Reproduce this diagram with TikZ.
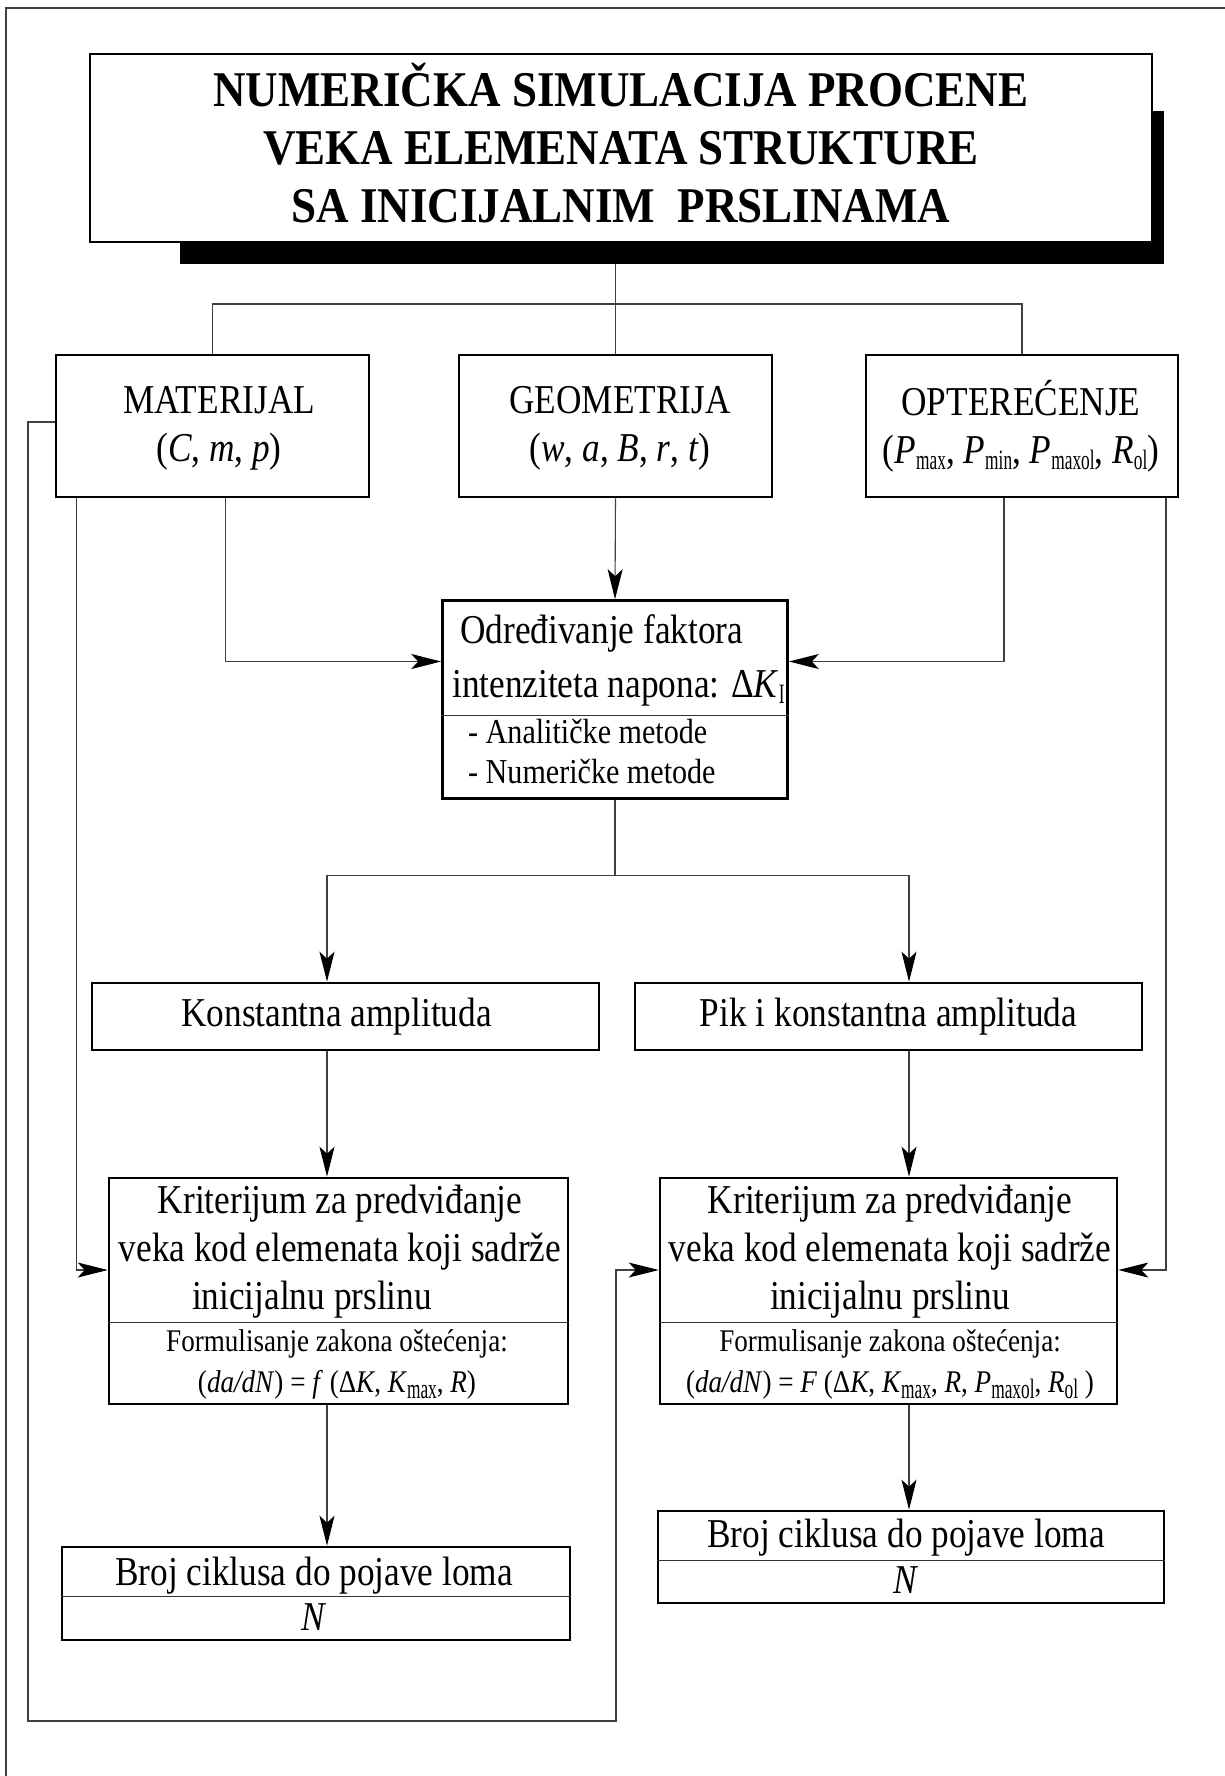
\documentclass[tikz,border=0pt]{standalone}
\usepackage{fontspec}
\usepackage{graphicx}
\setmainfont{Liberation Serif}[FakeStretch=0.86]
\newfontfamily\headfont{Liberation Serif}[FakeStretch=0.9]
\usetikzlibrary{arrows.meta}
\newcommand\lo[1]{\raisebox{-6pt}{\fontsize{28}{28}\selectfont\scalebox{0.72}[1]{#1}}}

\begin{document}
\begin{tikzpicture}[
    x=1pt, y=-1pt,
    box/.style={draw, line width=2.6pt, fill=white, inner sep=0pt},
    txt/.style={inner sep=0pt, align=center, font=\fontsize{41}{48}\selectfont},
    note/.style={inner sep=0pt, align=center, font=\fontsize{31.5}{41}\selectfont},
    line/.style={draw=black!75, line width=1.1pt},
    split/.style={draw=black!80, line width=1pt},
    arrow/.style={line, -{Stealth[length=30pt, width=15pt, inset=7pt, black]}}
]
    \useasboundingbox (0,0) rectangle (1225,1776);
    \draw[line] (6,1776) |- (1225,8);

    % title with its shadow
    \node[fill=black, inner sep=0pt, minimum width=984pt, minimum height=153pt] (shade) at (672,187.5) {};
    \node[box, minimum width=1062pt, minimum height=188pt] (title) at (621,148) {};
    \node[anchor=base, inner sep=0pt, align=center, font=\headfont\bfseries\fontsize{50}{58}\selectfont] (titletxt) at (621,223)
        {NUMERIČKA SIMULACIJA PROCENE\\VEKA ELEMENATA STRUKTURE\\SA INICIJALNIM\ \ PRSLINAMA};

    % input data
    \node[box, minimum width=313pt, minimum height=142pt] (mat) at (212.5,426) {};
    \node[txt, anchor=base] (mattxt) at (219,461) {MATERIJAL\\(\textit{C}, \textit{m}, \textit{p})};
    \node[box, minimum width=313pt, minimum height=142pt] (geo) at (615.5,426) {};
    \node[txt, anchor=base] (geotxt) at (620,461) {GEOMETRIJA\\(\textit{w}, \textit{a}, \textit{B}, \textit{r}, \textit{t})};
    \node[box, minimum width=312pt, minimum height=142pt] (opt) at (1022,426) {};
    \node[txt, anchor=base] (opttxt) at (1021,463) {OPTEREĆENJE\\(\textit{P}\lo{max}, \textit{P}\lo{min}, \textit{P}\lo{maxol}, \textit{R}\lo{ol})};

    % stress intensity factor
    \node[box, minimum width=345pt, minimum height=198pt] (dk) at (615,699.5) {};
    \node[txt, anchor=base west, align=left, font=\fontsize{41}{54}\selectfont] (dktxt) at (452,697)
        {\hspace*{8pt}Određivanje faktora\\intenziteta napona: Δ\textit{K}\lo{I}};
    \node[note, anchor=base west, align=left, font=\fontsize{35}{40}\selectfont] (dkmeth) at (468,783)
        {- Analitičke metode\\- Numeričke metode};
    \draw[split] (dk.west |- 0,715) -- (dk.east |- 0,715);

    % loading type
    \node[box, txt, minimum width=507pt, minimum height=67pt] (kon) at (345.5,1016.5) {Konstantna amplituda\hspace*{18pt}};
    \node[box, txt, minimum width=507pt, minimum height=67pt] (pik) at (888.5,1016.5) {Pik i konstantna amplituda};

    % criteria
    \node[box, minimum width=459pt, minimum height=226pt] (kritL) at (338.5,1291) {};
    \node[txt, anchor=base] (kritLtxt) at (340,1309)
        {Kriterijum za predviđanje\\veka kod elemenata koji sadrže\\inicijalnu prslinu\hspace*{56pt}};
    \node[note, anchor=base] (kritLlaw) at (337,1392)
        {Formulisanje zakona oštećenja:\\(\textit{da/dN}) = \textit{f} (Δ\textit{K}, \textit{K}\lo{max}, \textit{R})};
    \draw[split] (kritL.west |- 0,1322) -- (kritL.east |- 0,1322);

    \node[box, minimum width=457pt, minimum height=226pt] (kritR) at (888.5,1291) {};
    \node[txt, anchor=base] (kritRtxt) at (890,1309)
        {Kriterijum za predviđanje\\veka kod elemenata koji sadrže\\inicijalnu prslinu};
    \node[note, anchor=base] (kritRlaw) at (890,1392)
        {Formulisanje zakona oštećenja:\\(\textit{da/dN}) = \textit{F} (Δ\textit{K}, \textit{K}\lo{max}, \textit{R}, \textit{P}\lo{maxol}, \textit{R}\lo{ol} )};
    \draw[split] (kritR.west |- 0,1322) -- (kritR.east |- 0,1322);

    % number of cycles
    \node[box, minimum width=508pt, minimum height=93pt] (brojL) at (316,1593.5) {};
    \node[txt, anchor=base, font=\fontsize{41}{45}\selectfont] (brojLtxt) at (314,1630) {Broj ciklusa do pojave loma\\\textit{N}};
    \draw[split] (brojL.west |- 0,1596) -- (brojL.east |- 0,1596);
    \node[box, minimum width=506pt, minimum height=92pt] (brojR) at (911,1557) {};
    \node[txt, anchor=base, font=\fontsize{41}{46}\selectfont] (brojRtxt) at (906,1593) {Broj ciklusa do pojave loma\\\textit{N}};
    \draw[split] (brojR.west |- 0,1560) -- (brojR.east |- 0,1560);

    % connectors
    \coordinate (bus) at (617,304);
    \coordinate (colL) at (327,0);
    \coordinate (colR) at (909,0);
    \draw[line] (geo.north) -- (geo.north |- shade.south);
    \draw[line] (mat.north) |- (bus) -| (opt.north);
    \draw[arrow] (geo.south) -- (dk.north);
    \draw[arrow] ([xshift=13pt]mat.south) |- ([yshift=38pt]dk.west);
    \draw[arrow] ([xshift=-18pt]opt.south) |- ([yshift=38pt]dk.east);
    \draw[arrow] ([xshift=-136pt]mat.south) |- ([yshift=21pt]kritL.west);
    \draw[arrow] ([xshift=144pt]opt.south) |- ([yshift=21pt]kritR.east);
    \draw[line] (dk.south) -- ++(0,76) coordinate (fork);
    \draw[arrow] (fork) -| (kon.north -| colL);
    \draw[arrow] (fork) -| (pik.north -| colR);
    \draw[arrow] (kon.south -| colL) -- (kritL.north -| colL);
    \draw[arrow] (pik.south -| colR) -- (kritR.north -| colR);
    \draw[arrow] (kritL.south -| colL) -- (brojL.north -| colL);
    \draw[arrow] (kritR.south -| colR) -- (brojR.north -| colR);

    % feedback of material data
    \coordinate (loopL) at (28,1721);
    \coordinate (loopR) at (616,1721);
    \draw[arrow] ([yshift=4pt]mat.west) -| (loopL) -- (loopR) |- ([yshift=21pt]kritR.west);
\end{tikzpicture}
\end{document}
